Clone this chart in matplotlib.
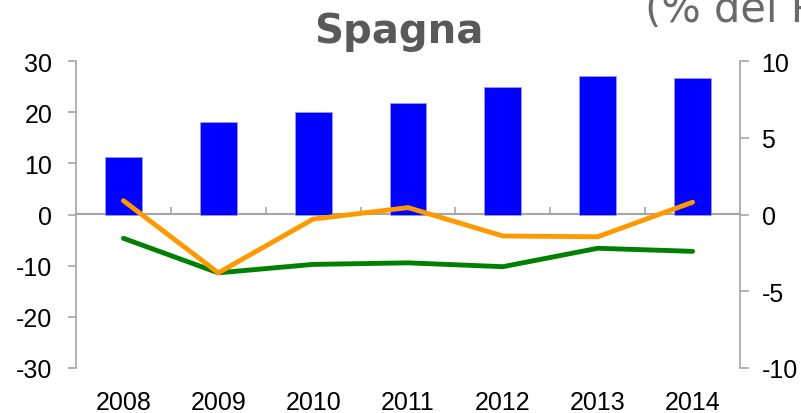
import matplotlib
matplotlib.use("Agg")
import matplotlib.pyplot as plt
import numpy as np

# data
years = ["2008", "2009", "2010", "2011", "2012", "2013", "2014"]
bar_vals = [11.3, 18.0, 20.1, 21.7, 25.0, 27.0, 26.6]          # left axis
orange_vals = [0.9, -3.8, -0.3, 0.45, -1.4, -1.45, 0.8]        # right axis
green_vals = [-1.55, -3.8, -3.25, -3.15, -3.4, -2.2, -2.4]     # right axis
left_ticks = [-30, -20, -10, 0, 10, 20, 30]
right_ticks = [-10, -5, 0, 5, 10]

W, H = 801, 414
axis_gray = "#a6a6a6"
lab_font = "Liberation Sans"
lab_size = 18

fig = plt.figure(figsize=(W / 100, H / 100), dpi=100)
ax = fig.add_axes([76 / W, 1 - 369 / H, (740 - 76) / W, (369 - 62) / H])

x = np.arange(len(years))
ax.bar(x, bar_vals, width=0.39, color="#0000ff", edgecolor="#9999ff", linewidth=0.6, zorder=2)
ax.set_xlim(-0.5, len(years) - 0.5)
ax.set_ylim(-30, 30)
ax.set_yticks(left_ticks)
ax.set_yticklabels([str(t) for t in left_ticks], fontsize=lab_size, family=lab_font)
ax.set_xticks(x)
ax.set_xticklabels(years, fontsize=lab_size, family=lab_font)
ax.tick_params(axis="x", length=0, pad=16)
ax.tick_params(axis="y", length=6, width=1.2, color=axis_gray, pad=11)
for s in ["top", "right", "bottom"]:
    ax.spines[s].set_visible(False)
ax.spines["left"].set_color(axis_gray)
ax.spines["left"].set_linewidth(1.2)

# zero line with category boundary ticks
zx = ax.secondary_xaxis(0.5)
zx.set_xticks(np.arange(0.5, len(years) - 0.5, 1.0))
zx.set_xticklabels([])
zx.tick_params(axis="x", length=5, width=1.2, color=axis_gray, direction="out")
for s in zx.spines.values():
    s.set_color(axis_gray)
    s.set_linewidth(1.5)

ax2 = ax.twinx()
ax2.plot(x, green_vals, color="#008000", linewidth=3.5, solid_capstyle="round", zorder=3)
ax2.plot(x, orange_vals, color="#ff9900", linewidth=3.5, solid_capstyle="round", zorder=4)
ax2.set_ylim(-10, 10)
ax2.set_yticks(right_ticks)
ax2.set_yticklabels([str(t) for t in right_ticks], fontsize=lab_size, family=lab_font)
ax2.tick_params(axis="y", length=6.5, width=1.2, color=axis_gray, pad=9)
for s in ["top", "left", "bottom"]:
    ax2.spines[s].set_visible(False)
ax2.spines["right"].set_color(axis_gray)
ax2.spines["right"].set_linewidth(1.2)

fig.text(399 / W, 1 - 43 / H, "Spagna", fontsize=29, fontweight="bold", color="#595959",
         family="DejaVu Sans", ha="center", va="baseline")
fig.text(645 / W, 1 - 22 / H, "(% del PIL)", fontsize=30, color="#6a6a6a",
         family="DejaVu Sans", ha="left", va="baseline")

fig.savefig("out.png", dpi=100)
